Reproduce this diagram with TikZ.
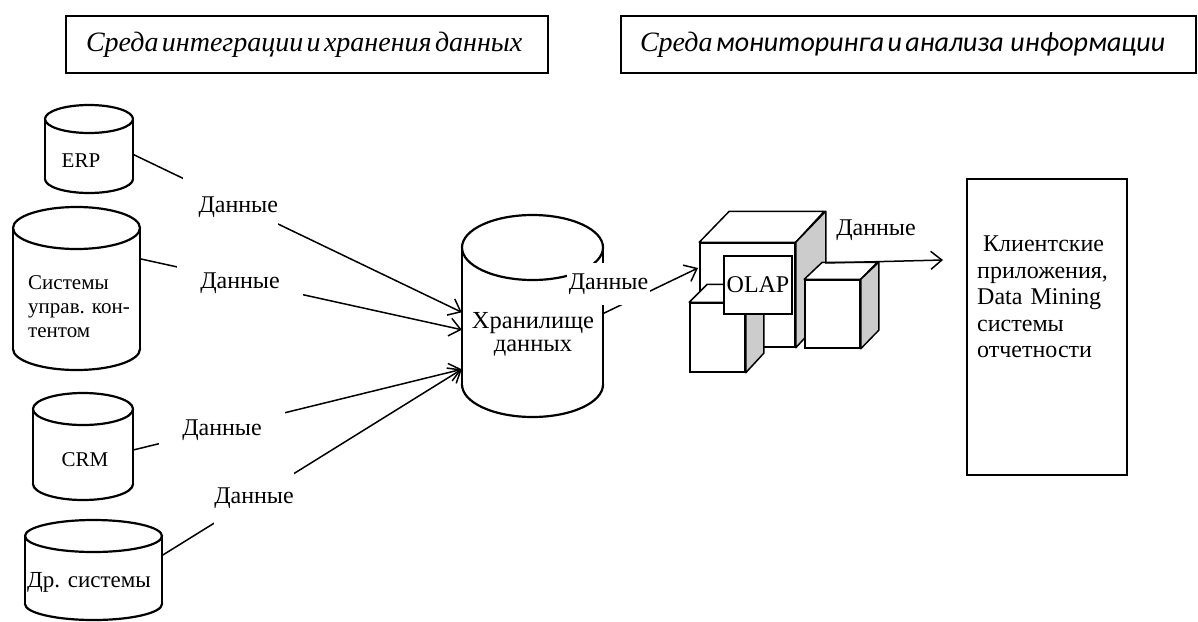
\documentclass[tikz,border=0pt]{standalone}
\usepackage{fontspec}
\setmainfont{Liberation Serif}
\newfontfamily\calibrifont{Carlito}
\usetikzlibrary{arrows.meta}
\newcommand{\cylshape}[5]{% left right top bottom ry
  \pgfmathsetmacro\cylcx{(#1+#2)/2}
  \pgfmathsetmacro\cylrx{(#2-#1)/2}
  \draw[cylline] (\cylcx,#4-#5) ellipse[x radius=\cylrx, y radius=#5];
  \fill[white] (#1,#3+#5) rectangle (#2,#4-#5);
  \draw[cylline] (#1,#3+#5) -- (#1,#4-#5) (#2,#3+#5) -- (#2,#4-#5);
  \draw[cylline, fill=white] (\cylcx,#3+#5) ellipse[x radius=\cylrx, y radius=#5];
}
\tikzset{
  cylline/.style={line width=2.2pt},
  body/.style={inner sep=0pt, draw=none},
  conn/.style={line width=1.5pt, -{Straight Barb[length=11pt,width=18pt]}},
  lab/.style={fill=white, inner sep=0pt, font=\fontsize{24}{24}\selectfont},
  txt/.style={inner sep=0pt, font=\fontsize{21}{24}\selectfont},
  bigtxt/.style={inner sep=0pt, font=\fontsize{24}{23}\selectfont},
  hdr/.style={draw, line width=1.3pt, inner ysep=0pt, align=left, minimum height=57pt},
  face/.style={draw, line width=1.5pt, fill=white, line join=round},
  sideface/.style={draw, line width=1.5pt, fill=gray!40, line join=round},
  frontface/.style={draw, line width=1.5pt, fill=white, inner sep=0pt},
  olapbox/.style={draw, line width=1.3pt, fill=white, inner sep=0pt, font=\fontsize{24}{24}\selectfont},
  clientbox/.style={draw, line width=1.5pt, inner sep=0pt}
}
\begin{document}
\begin{tikzpicture}[x=1pt, y=-1pt]
\useasboundingbox (0,0) rectangle (1198,621);

% headers
\node[hdr, text width=442pt, inner xsep=20pt] (h1) at (307,44.5)
  {\fontsize{28}{28}\selectfont\itshape Среда интеграции и хранения данных};
\node[hdr, text width=537pt, inner xsep=19pt] (h2) at (908.5,44.5)
  {\fontsize{28}{28}\selectfont\itshape Среда {\calibrifont мониторинга и анализа\ \ информации}};

% cylinders
\cylshape{45}{133}{105}{193}{14}
\node[body, minimum width=88pt, minimum height=88pt] (erp) at (89,149) {};
\node[txt] (erpt) at (81,161) {ERP};

\cylshape{13}{140}{207}{370}{21}
\node[body, minimum width=127pt, minimum height=163pt] (cms) at (76.5,288.5) {};
\node[txt, anchor=west, align=left] (cmst) at (28,307) {Системы\\управ. кон-\\тентом};

\cylshape{33}{133}{393}{500}{16}
\node[body, minimum width=100pt, minimum height=107pt] (crm) at (83,446.5) {};
\node[txt] (crmt) at (85,460) {CRM};

\cylshape{25}{162}{520}{620}{16}
\node[body, minimum width=137pt, minimum height=100pt] (oth) at (93.5,570) {};
\node[txt, anchor=west, font=\fontsize{23}{24}\selectfont] (otht) at (27,582) {Др. системы};

\cylshape{462}{603}{215}{417}{32.5}
\node[body, minimum width=141pt, minimum height=202pt] (dw) at (532.5,316) {};
\node[bigtxt, align=center, font=\fontsize{24.5}{23}\selectfont] (dwt) at (533,334) {Хранилище\\данных};

% connectors into the warehouse
\draw[conn] (erp.-7.8) -- (dw.177.6);
\draw[conn] (cms.25.7) -- (dw.191.2);
\draw[conn] (crm.-4) -- (dw.217.5);
\draw[conn] (oth.12.4) -- (dw.217.5);
\draw[conn] (dw.2.4) -- (698,268) coordinate (olapin);

\node[lab, text width=95pt, align=right, minimum height=62pt] (l1) at (230.5,207) {Данные};
\node[lab, minimum width=126pt, minimum height=40pt] (l2) at (240,283) {Данные};
\node[lab, minimum width=126pt, minimum height=44pt] (l3) at (222,430) {Данные};
\node[lab, minimum width=80pt, minimum height=54pt] (l4) at (254,498) {Данные};
\node[lab, minimum width=83pt, minimum height=42pt] (l5) at (608.5,284) {Данные};

% OLAP cubes
\node[frontface, minimum width=95pt, minimum height=104pt] (cubeA) at (747.5,295) {};
\draw[face] (cubeA.north west) -- ++(30,-31) -- ++(95,0) -- (cubeA.north east) -- cycle;
\draw[sideface] (cubeA.north east) -- ++(30,-31) -- ++(0,104) -- (cubeA.south east) -- cycle;

\node[frontface, minimum width=55pt, minimum height=69pt] (cubeB) at (717.5,337.5) {};
\draw[face] (cubeB.north west) -- ++(18,-18) -- ++(55,0) -- (cubeB.north east) -- cycle;
\draw[sideface] (cubeB.north east) -- ++(18,-18) -- ++(0,69) -- (cubeB.south east) -- cycle;

\node[olapbox, minimum width=68pt, minimum height=58pt] (olap) at (758,285) {OLAP};

\node[frontface, minimum width=55pt, minimum height=68pt] (cubeC) at (832.5,314) {};
\draw[face] (cubeC.north west) -- ++(18,-17) -- ++(55,0) -- (cubeC.north east) -- cycle;
\draw[sideface] (cubeC.north east) -- ++(18,-17) -- ++(0,68) -- (cubeC.south east) -- cycle;

% client applications
\node[clientbox, minimum width=160pt, minimum height=296pt] (client) at (1047,327) {};
\node[bigtxt, anchor=west, text width=131pt, align=left, font=\fontsize{24}{26.5}\selectfont] (clientt) at (977,297)
  {\hspace*{6pt}Клиентские\\приложения,\\\makebox[131pt][s]{Data Mining}\\системы\\отчетности};

\coordinate (olapout) at (825,263);
\coordinate (clientin) at (943,260);
\draw[conn] (olapout) -- (clientin);
\node[bigtxt] (l6) at (876,230) {Данные};
\end{tikzpicture}
\end{document}
